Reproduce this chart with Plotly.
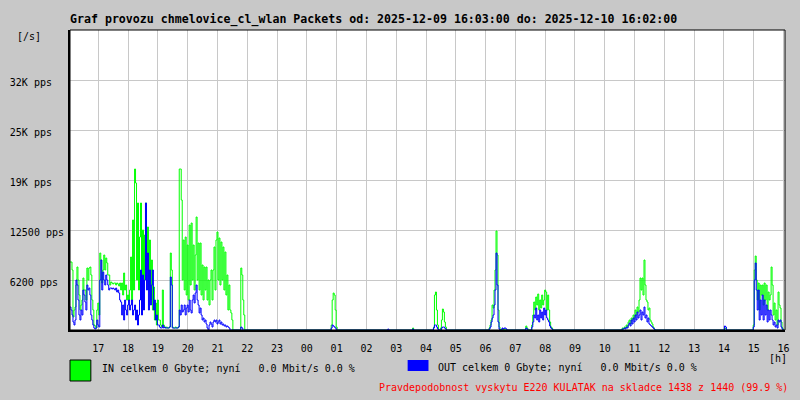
import pandas as pd
import plotly.graph_objects as go

# ---------------- data (packets per second, 2-minute samples) ----------------
RANGE_START = "2025-12-09 16:03"
RANGE_END = "2025-12-10 16:03"
N_SAMPLES = 720
SAMPLE = "2min"

seg_starts = [
    "2025-12-09 16:03", "2025-12-10 00:49", "2025-12-10 02:43", "2025-12-10 03:33",
    "2025-12-10 04:15", "2025-12-10 06:07", "2025-12-10 06:33", "2025-12-10 07:21",
    "2025-12-10 07:33", "2025-12-10 10:35", "2025-12-10 14:01", "2025-12-10 14:59",
]

in_a = [
    8500, 8500, 7500, 1625, 2500, 2875, 5625, 7875, 6250, 4375,
    2500, 3125, 3750, 6500, 5000, 5000, 3750, 7750, 6250, 7750,
    7875, 6875, 3750, 2500, 625, 500, 250, 2500, 3375, 1875,
    9625, 8750, 5875, 7500, 9375, 7500, 9000, 8375, 6875, 6875,
    5625, 6000, 5875, 5750, 5875, 5875, 5625, 5875, 5750, 5500,
    5875, 5000, 5875, 4375, 7125, 5000, 5625, 3750, 4375, 3750,
    5000, 9125, 3750, 13750, 5000, 20125, 18375, 6250, 15875, 5000,
    11625, 15875, 3750, 12500, 5000, 11875, 15875, 8750, 12875, 5000,
    11250, 3750, 8750, 2500, 5375, 1250, 3375, 625, 3750, 1250,
    1250, 625, 375, 5000, 625, 375, 250, 375, 250, 250,
    375, 9625, 7500, 375, 250, 250, 375, 250, 250, 375,
    20125, 20125, 16250, 6250, 11250, 5000, 11625, 4375, 10625, 3750,
    13125, 5625, 13375, 6250, 10625, 5000, 9375, 14125, 6250, 10875,
    5000, 10875, 4375, 8125, 3750, 7875, 5000, 7875, 3750, 6250,
    3125, 6250, 7500, 3750, 7500, 10375, 5000, 11250, 12250, 6250,
    11500, 5625, 11000, 6250, 10375, 5000, 9750, 4375, 6875, 2500,
    5625, 2500, 2125, 1250, 0, 0, 0, 0, 0, 0,
    0, 0, 7750, 6875, 3750, 1875, 0,
]
out_a = [
    2875, 2500, 1875, 1000, 625, 1250, 6250, 5625, 3750, 1875,
    1250, 2500, 1875, 5000, 4375, 3500, 2500, 5625, 5000, 5250,
    4375, 1875, 1250, 625, 250, 125, 250, 1250, 625, 375,
    6250, 8750, 5000, 7250, 6250, 5625, 6875, 6250, 5625, 5000,
    5250, 5250, 5125, 5250, 5125, 5000, 5250, 4750, 5000, 4625,
    3750, 3500, 1875, 3125, 1250, 3750, 2500, 1875, 3125, 3750,
    2500, 3125, 3750, 1875, 2500, 3125, 1250, 2500, 625, 1875,
    3750, 7500, 1875, 6875, 2500, 6250, 15875, 5000, 9625, 2500,
    7500, 3125, 5625, 7500, 2500, 3750, 1250, 1875, 625, 625,
    375, 250, 250, 625, 250, 375, 250, 250, 250, 250,
    375, 6625, 5625, 250, 250, 250, 250, 250, 250, 375,
    2500, 1875, 3125, 2250, 2500, 3125, 1875, 2750, 3125, 2250,
    3750, 2500, 2125, 3750, 4375, 3375, 4625, 5625, 3750, 3125,
    2125, 2750, 1875, 1250, 1500, 1000, 1250, 750, 250, 0,
    625, 1000, 750, 375, 1000, 1250, 1000, 1250, 750, 1000,
    1250, 750, 1000, 625, 750, 500, 625, 375, 500, 375,
    250, 0, 0, 0, 0, 0, 0, 0, 0, 0,
    0, 0, 375, 250, 0, 0, 0,
]
in_b = [625, 3750, 4625, 4375, 2500, 375]
out_b = [250, 625, 500, 375, 250, 0]
in_c = [0]
out_c = [125]
in_d = [250]
out_d = [125]
in_e = [375, 4375, 4750, 2500, 625, 0, 0, 250, 1250, 2625, 2250, 1000, 375]
out_e = [250, 625, 625, 375, 125, 0, 0, 0, 250, 375, 375, 250, 125]
in_f = [250, 625, 1250, 3125, 2750, 5000, 7500, 12375, 9375, 2500, 375]
out_f = [125, 375, 1000, 1500, 1875, 3125, 5000, 9625, 5625, 1000, 125]
in_g = [125, 0, 125, 0, 0]
out_g = [250, 125, 250, 250, 125]
in_h = [500, 250]
out_h = [250, 125]
in_i = [625, 1875, 3500, 2500, 4125, 3125, 4500, 2500, 3750, 2750, 4375, 3125, 3750,
        5000, 4750, 2500, 4375, 2500, 1000, 375, 250]
out_i = [375, 1000, 1875, 1500, 2750, 1250, 1875, 1000, 2500, 1500, 2250, 1250, 2750,
         1875, 2500, 1500, 1250, 1000, 500, 250, 125]
in_j = [250, 125, 375, 250, 625, 375, 1000, 1250, 750, 1500, 1250, 1875, 1500, 2500,
        1875, 2875, 2250, 3750, 6500, 5000, 6500, 4375, 8750, 5625, 3750, 3500, 2500,
        2750, 1250, 1000, 750, 375, 125]
out_j = [125, 125, 250, 125, 375, 250, 625, 875, 500, 1250, 750, 1500, 1000, 1875,
         1250, 2250, 1500, 1875, 2500, 1250, 2250, 1875, 2875, 1500, 1875, 1000, 1500,
         750, 625, 500, 375, 250, 125]
in_k = [250, 125]
out_k = [500, 375]
in_l = [625, 7500, 9250, 6250, 3750, 5875, 2500, 5625, 4375, 5625, 3125, 5875, 3750,
        5625, 2500, 4750, 3750, 4375, 7875, 5625, 1875, 3375, 1250, 2500, 625, 4750,
        3125, 2750, 1000, 250]
out_l = [375, 6250, 8375, 5000, 2500, 5000, 1250, 3750, 1875, 4375, 1250, 3750, 1875,
         3125, 1000, 2500, 1250, 2500, 1875, 1250, 625, 1000, 375, 625, 250, 1250,
         1000, 1250, 375, 125]

in_segments = [in_a, in_b, in_c, in_d, in_e, in_f, in_g, in_h, in_i, in_j, in_k, in_l]
out_segments = [out_a, out_b, out_c, out_d, out_e, out_f, out_g, out_h, out_i, out_j, out_k, out_l]

y_tickvals = [6250, 12500, 18750, 25000, 31250]
y_ticktext = ["6200 pps", "12500 pps", "19K pps", "25K pps", "32K pps"]

title_text = "Graf provozu chmelovice_cl_wlan Packets od: 2025-12-09 16:03:00 do: 2025-12-10 16:02:00"
in_label = "IN celkem 0 Gbyte; nyní   0.0 Mbit/s 0.0 %"
out_label = "OUT celkem 0 Gbyte; nyní   0.0 Mbit/s 0.0 %"
footer_text = "Pravdepodobnost vyskytu E220 KULATAK na skladce 1438 z 1440 (99.9 %)"

# ---------------- build series on the sampling grid ----------------
grid = pd.date_range(RANGE_START, periods=N_SAMPLES, freq=SAMPLE)
in_s = pd.Series(0.0, index=grid)
out_s = pd.Series(0.0, index=grid)
for start, iv, ov in zip(seg_starts, in_segments, out_segments):
    in_s.loc[pd.date_range(start, periods=len(iv), freq=SAMPLE)] = iv
    out_s.loc[pd.date_range(start, periods=len(ov), freq=SAMPLE)] = ov

GREEN = "#00ff00"
BLUE = "#0000ff"
RED = "#ff0000"
BG = "#c8c8c8"
GRID = "#c8c8c8"
FONT = "DejaVu Sans Mono"

W, H = 800, 400
L, R, T, B = 70, 10, 30, 70
PW, PH = W - L - R, H - T - B


def px(x):
    return (x - L) / PW


def py(y):
    return (H - B - y) / PH


fig = go.Figure()
fig.add_trace(go.Scatter(x=in_s.index, y=in_s.values, mode="lines",
                         line=dict(color=GREEN, width=1, shape="hv"), showlegend=False))
fig.add_trace(go.Scatter(x=out_s.index, y=out_s.values, mode="lines",
                         line=dict(color=BLUE, width=1, shape="hv"), showlegend=False))

pad = lambda s: s + "\u00a0" * (9 - len(s))

fig.update_layout(
    width=W, height=H,
    margin=dict(l=L, r=R, t=T, b=B),
    paper_bgcolor=BG, plot_bgcolor="white",
    showlegend=False,
    title=dict(text=title_text, x=70 / W, xanchor="left", xref="container",
               y=1 - 19 / H, yanchor="middle", yref="container",
               font=dict(family=FONT, size=11.6, color="black", weight="bold")),
    xaxis=dict(type="date", range=[RANGE_START, RANGE_END],
               tick0="2025-12-09 17:00", dtick=3600000, tickformat="%H",
               showgrid=True, gridcolor=GRID, gridwidth=1,
               showline=True, linecolor="black", linewidth=2, zeroline=False,
               ticks="outside", ticklen=8, tickcolor=BG,
               tickfont=dict(family=FONT, size=10, color="black")),
    yaxis=dict(range=[0, 37500], tickvals=y_tickvals, ticktext=[pad(t) for t in y_ticktext],
               showgrid=True, gridcolor=GRID, gridwidth=1,
               showline=True, linecolor="black", linewidth=2, zeroline=False,
               ticks="outside", ticklen=2, tickcolor=GRID, ticklabelshift=2,
               tickfont=dict(family=FONT, size=10, color="black")),
)

fig.add_shape(type="rect", xref="paper", yref="paper", x0=0, x1=1, y0=0, y1=1,
              line=dict(color="black", width=1), fillcolor="rgba(0,0,0,0)", layer="above")
fig.add_shape(type="rect", xref="paper", yref="paper", x0=px(70), x1=px(91), y0=py(360), y1=py(381),
              line=dict(color="black", width=1), fillcolor=GREEN)
fig.add_shape(type="rect", xref="paper", yref="paper", x0=px(410), x1=px(431), y0=py(360), y1=py(371),
              line=dict(width=0), fillcolor=BLUE)

for text, x, y, color in [
    ("[/s]", 15, 37, "black"),
    ("[h]", 772, 358, "black"),
    (in_label.replace(" ", "\u00a0"), 100, 368, "black"),
    (out_label.replace(" ", "\u00a0"), 439, 367, "black"),
    (footer_text, 379, 387, RED),
]:
    fig.add_annotation(text=text, xref="paper", yref="paper", x=px(x), y=py(y),
                       xanchor="left", yanchor="middle", showarrow=False,
                       font=dict(family=FONT, size=10, color=color))

fig.write_html("out.html", config={"displayModeBar": False},
               post_script="document.body.style.margin='0';")
